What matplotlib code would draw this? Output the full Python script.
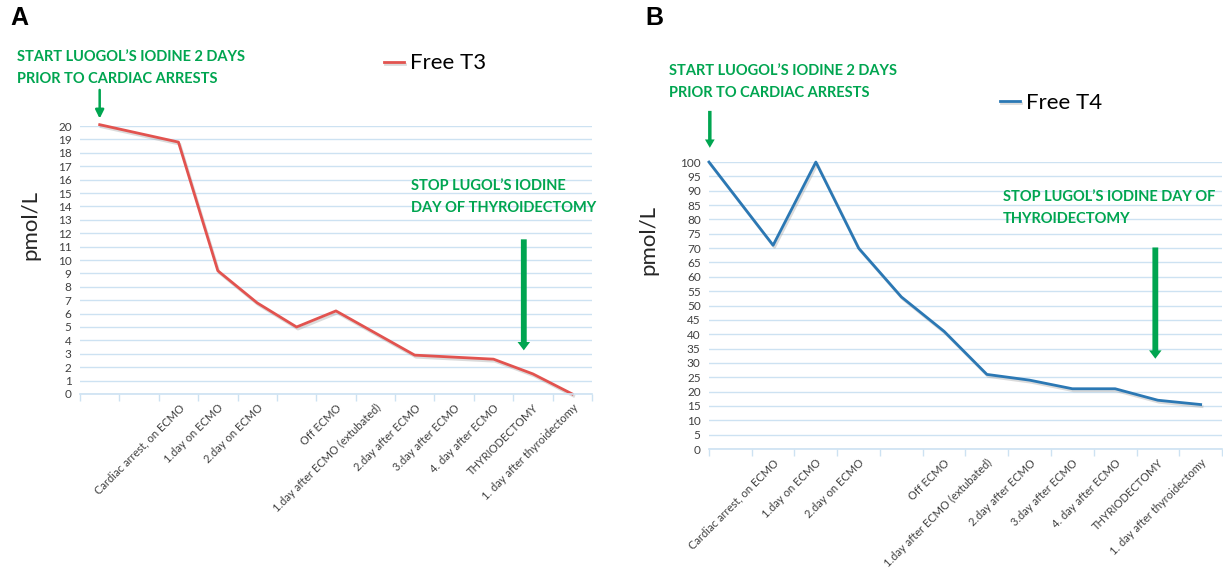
import numpy as np
import matplotlib
matplotlib.use("Agg")
import matplotlib.pyplot as plt
import matplotlib.patheffects as pe

# ---- data ----
labels_t3 = ["", "", "Cardiac arrest, on ECMO", "1.day on ECMO", "2.day on ECMO", "",
             "Off ECMO", "1.day after ECMO (extubated)", "2.day after ECMO",
             "3.day after ECMO", "4. day after ECMO", "THYRIODECTOMY",
             "1. day after thyroidectomy"]
free_t3 = [20.1, np.nan, 18.8, 9.2, 6.8, 5.0, 6.2, np.nan, 2.9, 2.75, 2.6, 1.5, 0.0]

labels_t4 = ["", "Cardiac arrest, on ECMO", "1.day on ECMO", "2.day on ECMO", "",
             "Off ECMO", "1.day after ECMO (extubated)", "2.day after ECMO",
             "3.day after ECMO", "4. day after ECMO", "THYRIODECTOMY",
             "1. day after thyroidectomy"]
free_t4_start = 100.0   # value drawn on the left edge of the axis
free_t4 = [np.nan, 71, 100, 70, 53, 41, 26, 24, 21, 21, 17, 15.5]

GREEN = "#00a550"
GRID = "#cde2f2"
RED = "#e2534f"
BLUE = "#2b78b4"
FONT = "Lato"

plt.rcParams['font.family'] = [FONT, 'DejaVu Sans']

fig = plt.figure(figsize=(12.23, 5.72), dpi=100)


def style_axis(ax, labels, ymax, ystep):
    n = len(labels)
    ax.set_xlim(-0.5, n - 0.5)
    ax.set_ylim(0, ymax)
    ax.set_yticks(np.arange(0, ymax + 0.1, ystep))
    ax.set_xticks(np.arange(n))
    ax.set_xticklabels(labels, rotation=45, ha="right", va="top",
                       rotation_mode="anchor", fontsize=8, color="#404040")
    ax.set_xticks(np.arange(-0.5, n, 1), minor=True)
    ax.tick_params(axis="x", which="major", length=0, pad=6)
    ax.tick_params(axis="x", which="minor", length=5, color=GRID, width=1)
    ax.tick_params(axis="y", length=0, labelsize=8.5, labelcolor="#404040", pad=6)
    ax.grid(axis="y", color=GRID, linewidth=1)
    ax.set_axisbelow(True)
    for s in ["top", "right", "left"]:
        ax.spines[s].set_visible(False)
    ax.spines["bottom"].set_color(GRID)
    ax.spines["bottom"].set_linewidth(1.2)


shadow = [pe.SimpleLineShadow(offset=(1, -1.5), shadow_color="#999999", alpha=0.35),
          pe.Normal()]

# ---- panel A: Free T3 ----
axA = fig.add_axes([0.0654, 0.3112, 0.4186, 0.4685])
style_axis(axA, labels_t3, 20, 1)
yA = np.array(free_t3)
xA = np.arange(len(yA))
ok = ~np.isnan(yA)
axA.plot(xA[ok], yA[ok], color=RED, lw=2, clip_on=False, path_effects=shadow,
         label="Free T3")
axA.legend(loc="center left", bbox_to_anchor=(0.314, 0.889),
           bbox_transform=fig.transFigure, frameon=False, fontsize=16,
           handlelength=0.9, handletextpad=0.25, borderpad=0, borderaxespad=0)

axA.annotate("", xy=(0, 20.35), xytext=(0, 22.9),
             arrowprops=dict(arrowstyle="-|>,head_width=0.25,head_length=0.5",
                             color=GREEN, lw=1.8), annotation_clip=False)
axA.annotate("", xy=(10.77, 3.05), xytext=(10.77, 11.75),
             arrowprops=dict(arrowstyle="simple,head_width=0.9,head_length=0.6,tail_width=0.42",
                             color=GREEN, lw=0, mutation_scale=10),
             annotation_clip=False)

fig.text(17 / 1223, 1 - 68 / 572, "START LUOGOL\u2019S IODINE 2 DAYS\nPRIOR TO CARDIAC ARRESTS",
         color=GREEN, fontsize=10.5, fontweight="bold", va="center", ha="left",
         linespacing=1.65)
fig.text(411 / 1223, 1 - 197 / 572, "STOP LUGOL\u2019S IODINE\nDAY OF THYROIDECTOMY",
         color=GREEN, fontsize=10.5, fontweight="bold", va="center", ha="left",
         linespacing=1.65)
fig.text(30 / 1223, 1 - 225 / 572, "pmol/L", rotation=90, fontsize=16,
         color="#262626", ha="center", va="center")
fig.text(10 / 1223, 1 - 18 / 572, "A", fontsize=18, fontweight="bold",
         family="Liberation Sans", ha="left", va="center")

# ---- panel B: Free T4 ----
axB = fig.add_axes([0.5797, 0.2150, 0.4195, 0.5017])
style_axis(axB, labels_t4, 100, 5)
yB = np.array(free_t4, dtype=float)
xB = np.arange(len(yB))
ok = ~np.isnan(yB)
xB = np.concatenate([[-0.5], xB[ok]])
yB = np.concatenate([[free_t4_start], yB[ok]])
axB.plot(xB, yB, color=BLUE, lw=2, clip_on=False, path_effects=shadow,
         label="Free T4")
axB.legend(loc="center left", bbox_to_anchor=(0.8177, 0.82),
           bbox_transform=fig.transFigure, frameon=False, fontsize=16,
           handlelength=0.9, handletextpad=0.25, borderpad=0, borderaxespad=0)

axB.annotate("", xy=(-0.48, 104.0), xytext=(-0.48, 118.8),
             arrowprops=dict(arrowstyle="simple,head_width=0.7,head_length=0.6,tail_width=0.25",
                             color=GREEN, lw=0, mutation_scale=10),
             annotation_clip=False)
axB.annotate("", xy=(9.94, 30.5), xytext=(9.94, 71.2),
             arrowprops=dict(arrowstyle="simple,head_width=0.9,head_length=0.6,tail_width=0.42",
                             color=GREEN, lw=0, mutation_scale=10),
             annotation_clip=False)

fig.text(669 / 1223, 1 - 82 / 572, "START LUOGOL\u2019S IODINE 2 DAYS\nPRIOR TO CARDIAC ARRESTS",
         color=GREEN, fontsize=10.5, fontweight="bold", va="center", ha="left",
         linespacing=1.65)
fig.text(1003 / 1223, 1 - 208 / 572, "STOP LUGOL\u2019S IODINE DAY OF\nTHYROIDECTOMY",
         color=GREEN, fontsize=10.5, fontweight="bold", va="center", ha="left",
         linespacing=1.65)
fig.text(648 / 1223, 1 - 240 / 572, "pmol/L", rotation=90, fontsize=16,
         color="#262626", ha="center", va="center")
fig.text(645 / 1223, 1 - 18 / 572, "B", fontsize=18, fontweight="bold",
         family="Liberation Sans", ha="left", va="center")

fig.savefig("out.png", dpi=100)
